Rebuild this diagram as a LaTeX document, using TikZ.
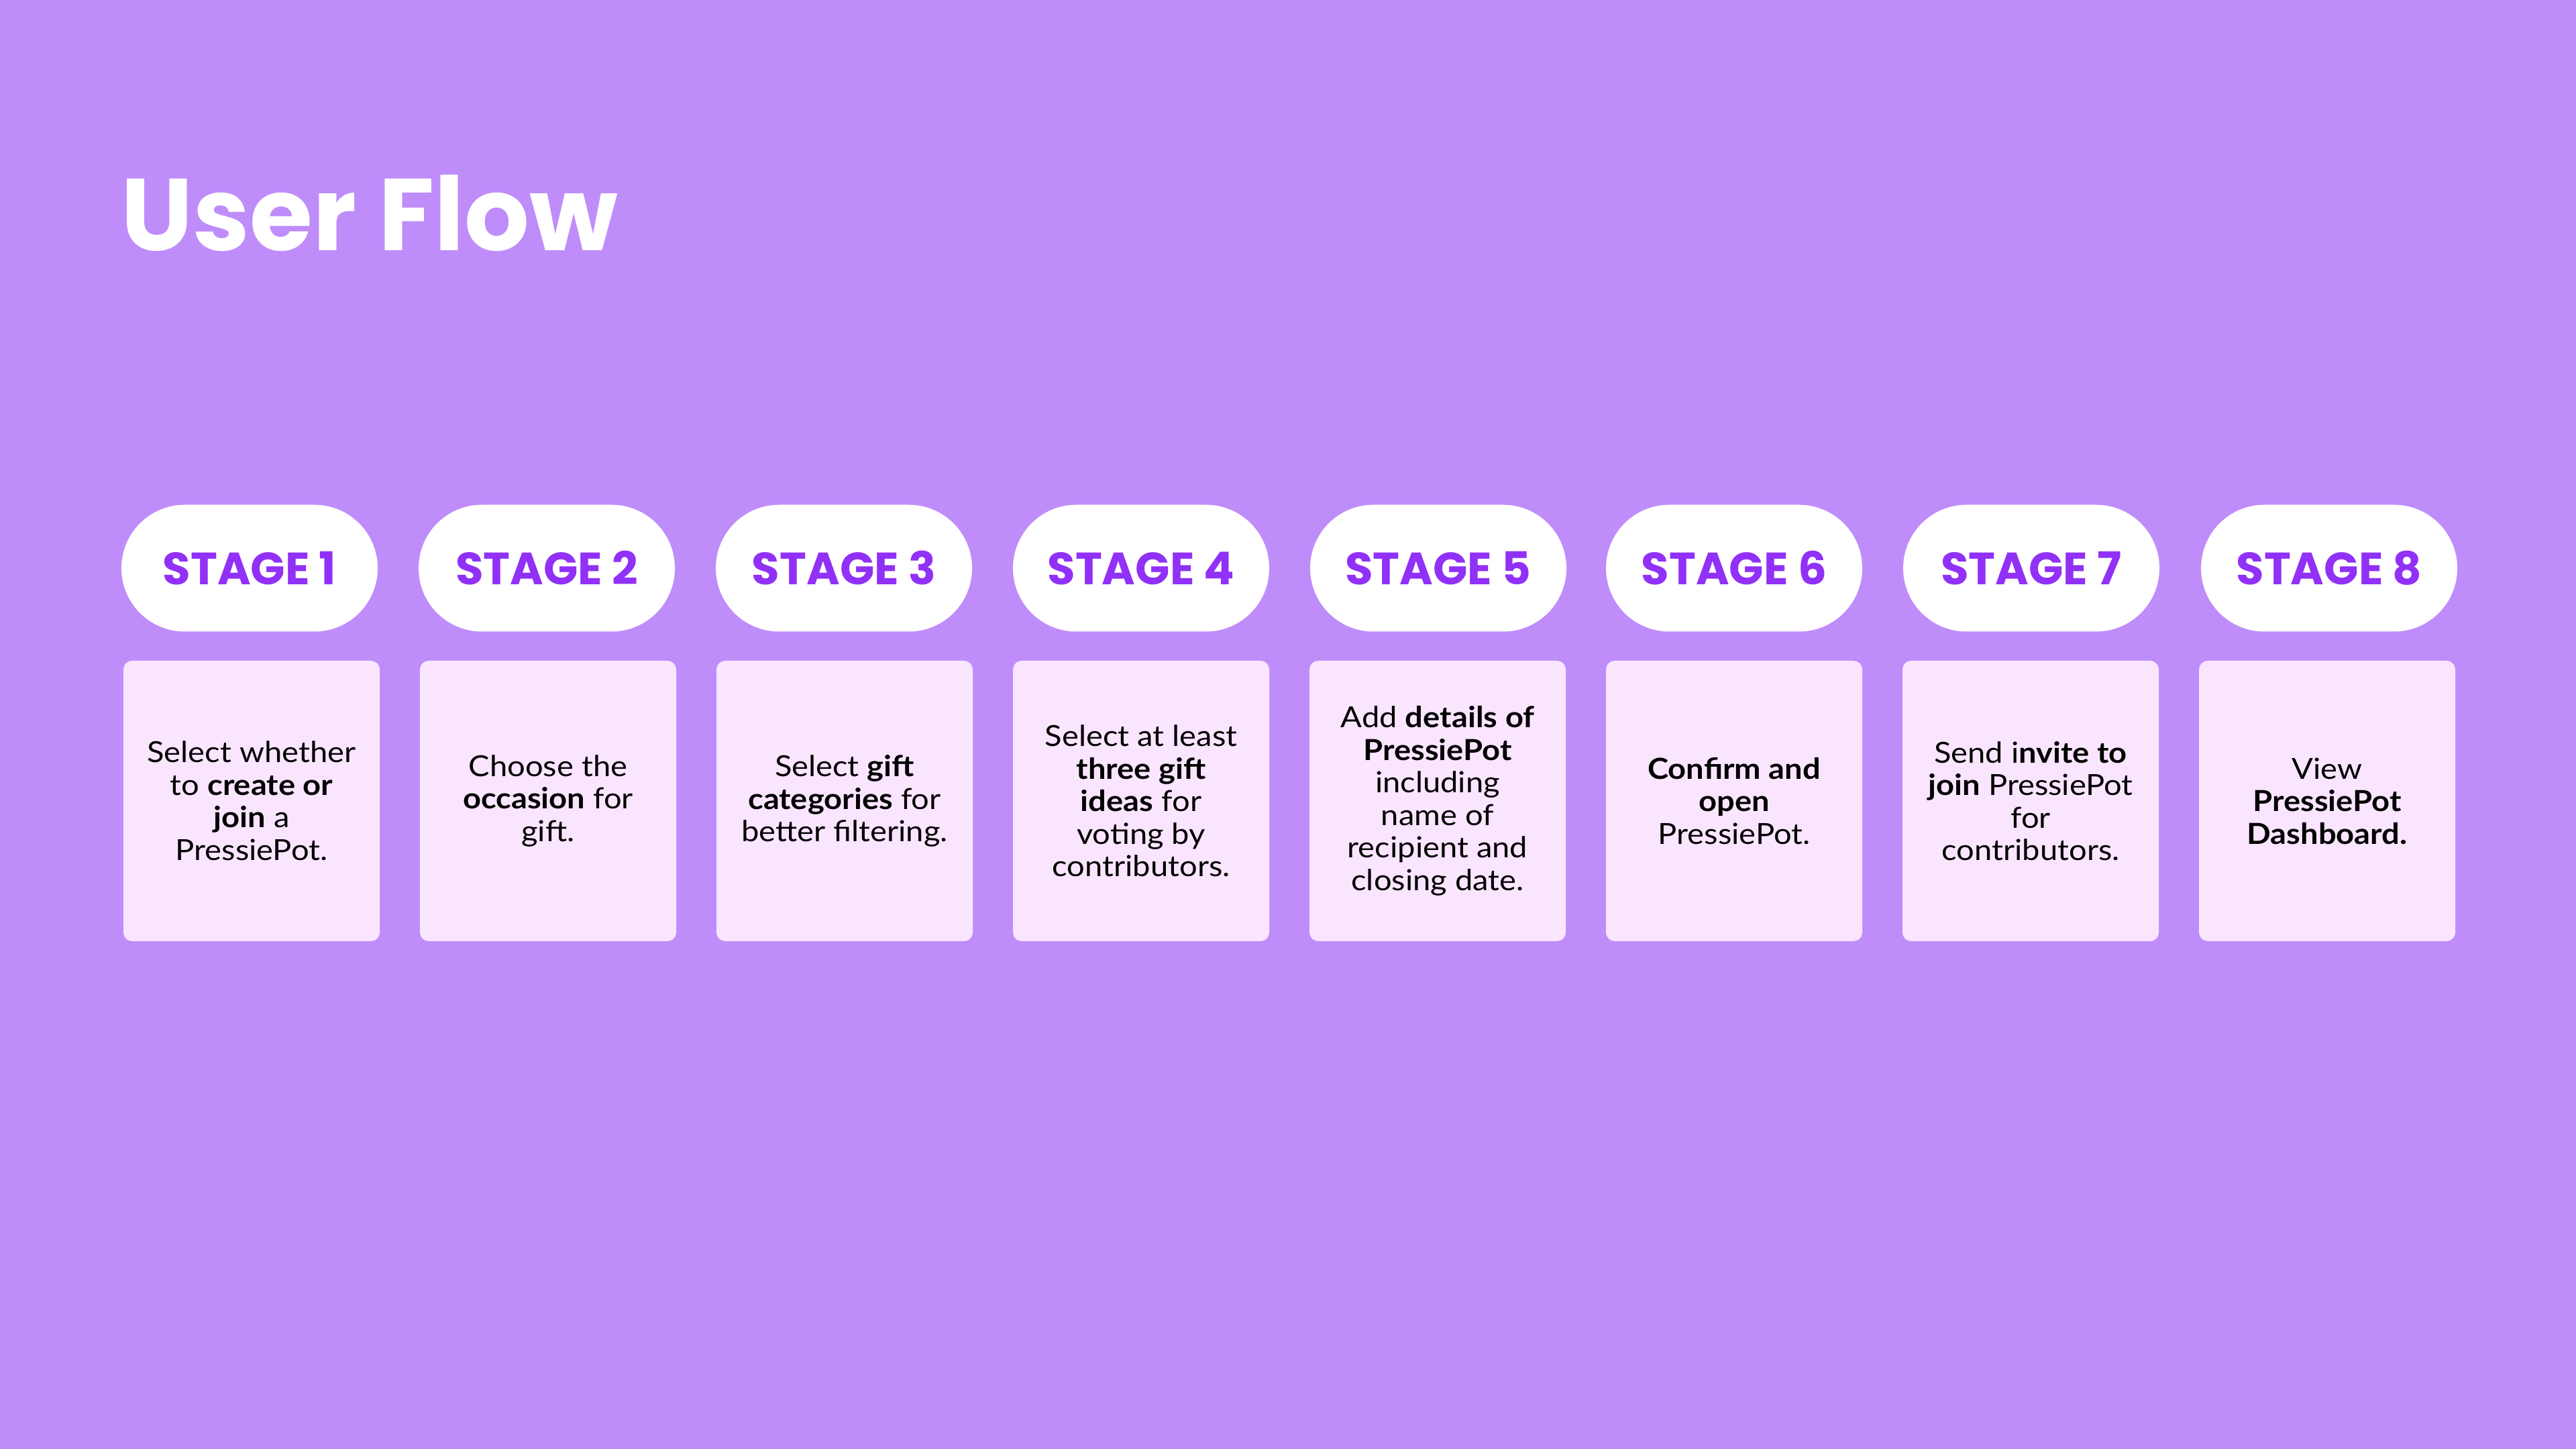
\documentclass[tikz,border=0pt]{standalone}
\usepackage{fontspec}
\setmainfont{Lato}[FakeStretch=1.09]
\newfontfamily\headfont{Poppins}
\definecolor{bgpurple}{HTML}{BF8DFA}
\definecolor{stagepurple}{HTML}{9130F6}
\definecolor{boxpink}{HTML}{FAE5FF}
\tikzset{
  stagepill/.style={fill=white, draw=none, rounded corners=0.945cm, minimum width=3.82cm, minimum height=1.89cm, inner sep=0pt,
    font=\headfont\bfseries\fontsize{19.2}{19.2}\selectfont, text=stagepurple},
  infobox/.style={fill=boxpink, draw=none, rounded corners=0.13cm, minimum width=3.82cm, minimum height=4.18cm, inner sep=0pt},
  infotext/.style={align=center, inner sep=0pt, font=\fontsize{12.3}{13.8}\selectfont, text=black},
  titletext/.style={font=\headfont\bfseries\fontsize{43.3}{43.3}\selectfont, text=white, inner sep=0pt, anchor=base west}
}
\begin{document}
\begin{tikzpicture}
\fill[bgpurple] (0,0) rectangle (38.4,21.6);
\useasboundingbox (0,0) rectangle (38.4,21.6);
\node[titletext] (title) at (1.80,17.86) {User Flow};
% pills
\node[stagepill] (s1) at (3.72,13.13) {STAGE 1};
\node[stagepill] (s2) at (8.15,13.13) {STAGE 2};
\node[stagepill] (s3) at (12.58,13.13) {STAGE 3};
\node[stagepill] (s4) at (17.01,13.13) {STAGE 4};
\node[stagepill] (s5) at (21.44,13.13) {STAGE 5};
\node[stagepill] (s6) at (25.85,13.13) {STAGE 6};
\node[stagepill] (s7) at (30.28,13.13) {STAGE 7};
\node[stagepill] (s8) at (34.72,13.13) {STAGE 8};
% boxes
\node[infobox] (b1) at (3.75,9.66) {};
\node[infobox] (b2) at (8.17,9.66) {};
\node[infobox] (b3) at (12.59,9.66) {};
\node[infobox] (b4) at (17.01,9.66) {};
\node[infobox] (b5) at (21.43,9.66) {};
\node[infobox] (b6) at (25.85,9.66) {};
\node[infobox] (b7) at (30.27,9.66) {};
\node[infobox] (b8) at (34.69,9.66) {};
% texts
\node[infotext] (t1) at (b1) {Select whether\\to \textbf{create or}\\\textbf{join} a\\PressiePot.};
\node[infotext] (t2) at (b2) {Choose the\\\textbf{occasion} for\\gift.};
\node[infotext] (t3) at (b3) {Select \textbf{gift}\\\textbf{categories} for\\better filtering.};
\node[infotext] (t4) at (b4) {Select at least\\\textbf{three gift}\\\textbf{ideas} for\\voting by\\contributors.};
\node[infotext] (t5) at (b5) {Add \textbf{details of}\\\textbf{PressiePot}\\including\\name of\\recipient and\\closing date.};
\node[infotext] (t6) at (b6) {\textbf{Confirm and}\\\textbf{open}\\PressiePot.};
\node[infotext] (t7) at (b7) {Send i\textbf{nvite to}\\\textbf{join} PressiePot\\for\\contributors.};
\node[infotext] (t8) at (b8) {View\\\textbf{PressiePot}\\\textbf{Dashboard.}};
\end{tikzpicture}
\end{document}
